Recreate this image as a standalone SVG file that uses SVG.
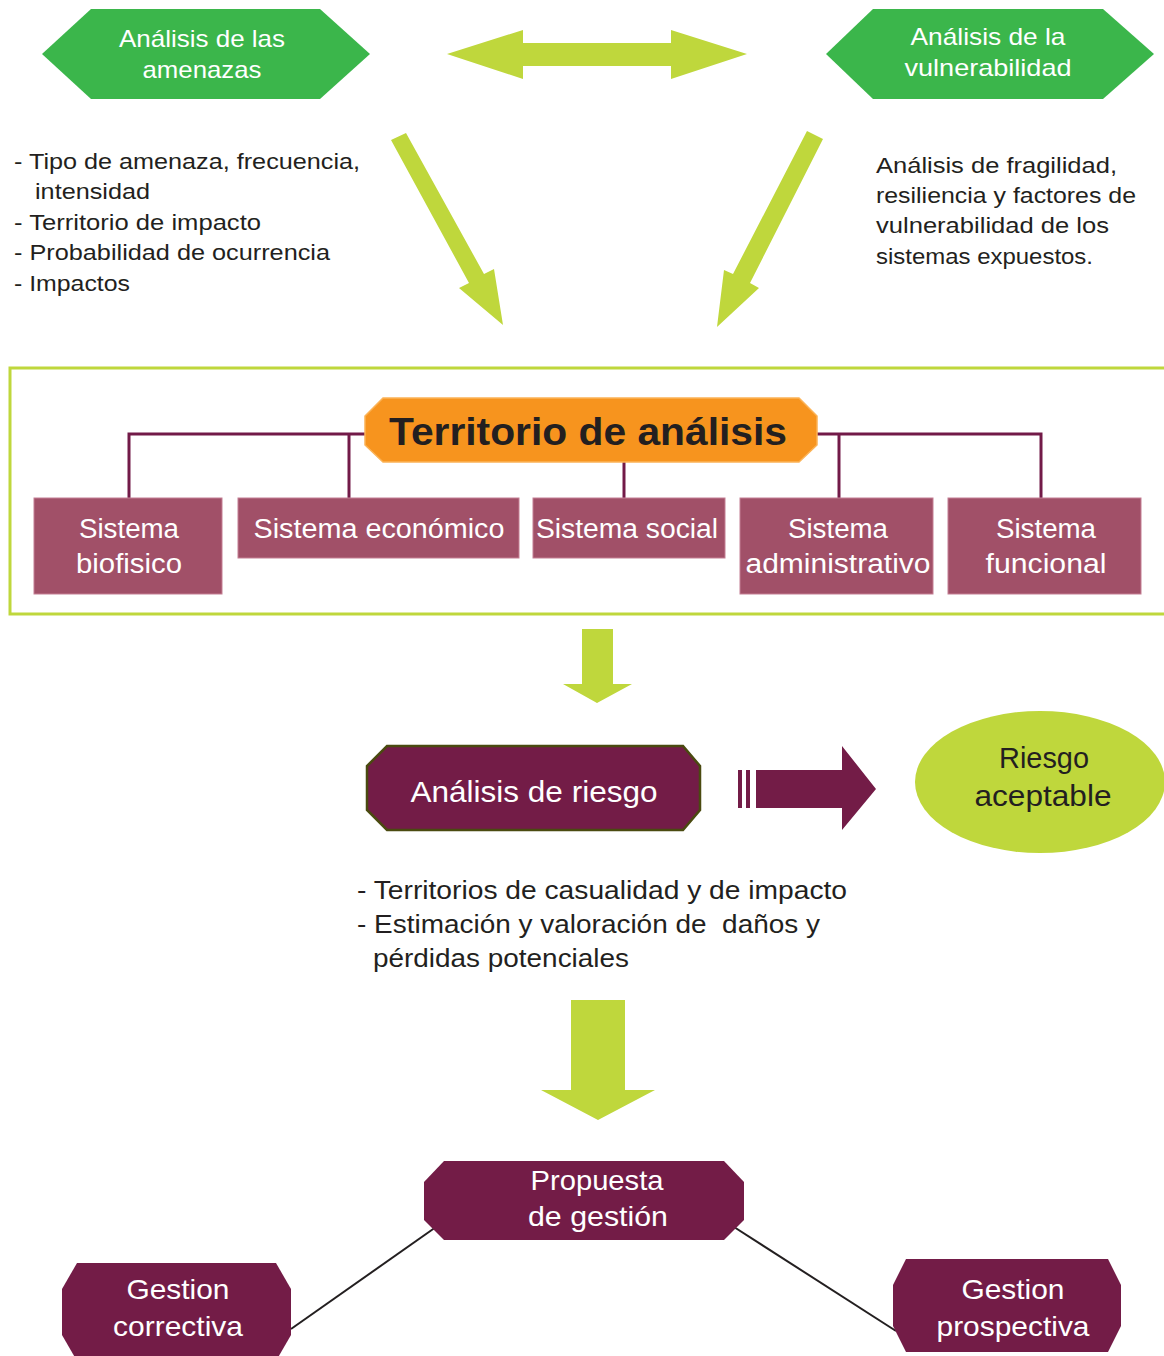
<svg xmlns="http://www.w3.org/2000/svg" width="1164" height="1356" viewBox="0 0 1164 1356">
  <style>
    text { font-family: "Liberation Sans", "Noto Sans", Arial, sans-serif; }
    .hex-green { fill: #3bb64b; }
    .lime { fill: #bfd73c; }
    .plum { fill: #731c47; }
    .sys { fill: #a15068; stroke: #c47f93; stroke-width: 1; }
    .wt { fill: #ffffff; text-anchor: middle; }
    .dk { fill: #231f20; }
    .tree { fill: none; stroke: #721a48; stroke-width: 3; }
    .thin { fill: none; stroke: #231f20; stroke-width: 2; }
  </style>

  <!-- connectors -->
  <g id="connectors">
    <!-- two-way arrow between the analyses -->
    <polygon class="lime" points="447,54 523,30 523,43 671,43 671,30 747,54 671,79 671,66 523,66 523,79"/>
    <!-- diagonal arrows into the territory -->
    <polygon class="lime" points="391,140 406,133 484,274 494,269 503,325 459,288 469,283"/>
    <polygon class="lime" points="807,131 823,139 750,283 759,288 717,327 724,270 733,274"/>
    <!-- territory tree -->
    <polyline class="tree" points="129,498 129,434 365,434"/>
    <line class="tree" x1="349" y1="434" x2="349" y2="498"/>
    <line class="tree" x1="624" y1="462" x2="624" y2="498"/>
    <polyline class="tree" points="817,434 1041,434 1041,498"/>
    <line class="tree" x1="839" y1="434" x2="839" y2="498"/>
    <!-- downward arrows -->
    <polygon class="lime" points="582,629 613,629 613,684 632,684 597,703 563,684 582,684"/>
    <polygon class="lime" points="571,1000 625,1000 625,1090 655,1090 598,1120 541,1090 571,1090"/>
    <!-- striped arrow to acceptable risk -->
    <rect class="plum" x="738" y="770" width="4" height="38"/>
    <rect class="plum" x="746" y="770" width="4" height="38"/>
    <polygon class="plum" points="756,770 842,770 842,746 876,789 842,830 842,808 756,808"/>
    <!-- management branches -->
    <line class="thin" x1="291" y1="1329" x2="436" y2="1227"/>
    <line class="thin" x1="734" y1="1227" x2="896" y2="1331"/>
  </g>

  <!-- threat analysis -->
  <g id="node-amenazas">
    <polygon class="hex-green" points="91,9 320,9 370,54 320,99 91,99 42,54"/>
    <text class="wt" x="202" y="47" font-size="24" textLength="166" lengthAdjust="spacingAndGlyphs">Análisis de las</text>
    <text class="wt" x="202" y="78" font-size="24" textLength="119" lengthAdjust="spacingAndGlyphs">amenazas</text>
  </g>

  <!-- vulnerability analysis -->
  <g id="node-vulnerabilidad">
    <polygon class="hex-green" points="873,9 1103,9 1154,54 1103,99 873,99 826,54"/>
    <text class="wt" x="988" y="45" font-size="24" textLength="155" lengthAdjust="spacingAndGlyphs">Análisis de la</text>
    <text class="wt" x="988" y="76" font-size="24" textLength="167" lengthAdjust="spacingAndGlyphs">vulnerabilidad</text>
  </g>

  <g id="notes-amenazas" class="dk" font-size="22">
    <text x="14" y="169" textLength="346" lengthAdjust="spacingAndGlyphs">- Tipo de amenaza, frecuencia,</text>
    <text x="35" y="199" textLength="115" lengthAdjust="spacingAndGlyphs">intensidad</text>
    <text x="14" y="230" textLength="247" lengthAdjust="spacingAndGlyphs">- Territorio de impacto</text>
    <text x="14" y="260" textLength="316" lengthAdjust="spacingAndGlyphs">- Probabilidad de ocurrencia</text>
    <text x="14" y="291" textLength="116" lengthAdjust="spacingAndGlyphs">- Impactos</text>
  </g>

  <g id="notes-vulnerabilidad" class="dk" font-size="22">
    <text x="876" y="173" textLength="241" lengthAdjust="spacingAndGlyphs">Análisis de fragilidad,</text>
    <text x="876" y="203" textLength="260" lengthAdjust="spacingAndGlyphs">resiliencia y factores de</text>
    <text x="876" y="233" textLength="233" lengthAdjust="spacingAndGlyphs">vulnerabilidad de los</text>
    <text x="876" y="264" textLength="217" lengthAdjust="spacingAndGlyphs">sistemas expuestos.</text>
  </g>

  <!-- territory frame -->
  <g id="frame-territorio">
    <rect x="10" y="368" width="1164" height="246" fill="none" stroke="#bfd73c" stroke-width="3"/>
  </g>

  <g id="node-territorio">
    <polygon points="383,398 799,398 817,416 817,445 799,462 383,462 365,445 365,416" fill="#f7941e" stroke="#fbb357" stroke-width="1.5"/>
    <text class="dk" x="588" y="445" font-size="38" font-weight="bold" text-anchor="middle" textLength="398" lengthAdjust="spacingAndGlyphs">Territorio de análisis</text>
  </g>

  <g id="node-biofisico">
    <rect class="sys" x="34" y="498" width="188" height="96"/>
    <text class="wt" x="129" y="538" font-size="27" textLength="100" lengthAdjust="spacingAndGlyphs">Sistema</text>
    <text class="wt" x="129" y="573" font-size="27" textLength="106" lengthAdjust="spacingAndGlyphs">biofisico</text>
  </g>
  <g id="node-economico">
    <rect class="sys" x="238" y="498" width="281" height="60"/>
    <text class="wt" x="379" y="538" font-size="27" textLength="251" lengthAdjust="spacingAndGlyphs">Sistema económico</text>
  </g>
  <g id="node-social">
    <rect class="sys" x="533" y="498" width="192" height="60"/>
    <text class="wt" x="627" y="538" font-size="27" textLength="182" lengthAdjust="spacingAndGlyphs">Sistema social</text>
  </g>
  <g id="node-administrativo">
    <rect class="sys" x="740" y="498" width="193" height="96"/>
    <text class="wt" x="838" y="538" font-size="27" textLength="100" lengthAdjust="spacingAndGlyphs">Sistema</text>
    <text class="wt" x="838" y="573" font-size="27" textLength="185" lengthAdjust="spacingAndGlyphs">administrativo</text>
  </g>
  <g id="node-funcional">
    <rect class="sys" x="948" y="498" width="193" height="96"/>
    <text class="wt" x="1046" y="538" font-size="27" textLength="100" lengthAdjust="spacingAndGlyphs">Sistema</text>
    <text class="wt" x="1046" y="573" font-size="27" textLength="121" lengthAdjust="spacingAndGlyphs">funcional</text>
  </g>

  <!-- risk analysis -->
  <g id="node-riesgo">
    <polygon class="plum" points="387,746 683,746 700,766 700,810 683,830 387,830 367,810 367,766" stroke="#4a4a10" stroke-width="2.5"/>
    <text class="wt" x="534" y="802" font-size="29" textLength="247" lengthAdjust="spacingAndGlyphs">Análisis de riesgo</text>
  </g>

  <g id="node-aceptable">
    <ellipse class="lime" cx="1040" cy="782" rx="125" ry="71"/>
    <text class="dk" x="1044" y="768" font-size="29" text-anchor="middle" textLength="90" lengthAdjust="spacingAndGlyphs">Riesgo</text>
    <text class="dk" x="1043" y="806" font-size="29" text-anchor="middle" textLength="137" lengthAdjust="spacingAndGlyphs">aceptable</text>
  </g>

  <g id="notes-riesgo" class="dk" font-size="25">
    <text x="357" y="899" textLength="490" lengthAdjust="spacingAndGlyphs">- Territorios de casualidad y de impacto</text>
    <text x="357" y="933" xml:space="preserve" textLength="463" lengthAdjust="spacingAndGlyphs">- Estimación y valoración de  daños y</text>
    <text x="373" y="967" textLength="256" lengthAdjust="spacingAndGlyphs">pérdidas potenciales</text>
  </g>

  <!-- management -->
  <g id="node-propuesta">
    <polygon class="plum" points="444,1161 724,1161 744,1182 744,1220 724,1240 444,1240 424,1220 424,1182"/>
    <text class="wt" x="597" y="1190" font-size="28" textLength="133" lengthAdjust="spacingAndGlyphs">Propuesta</text>
    <text class="wt" x="598" y="1226" font-size="28" textLength="140" lengthAdjust="spacingAndGlyphs">de gestión</text>
  </g>

  <g id="node-correctiva">
    <polygon class="plum" points="77,1263 276,1263 291,1289 291,1335 276,1361 77,1361 62,1335 62,1289"/>
    <text class="wt" x="178" y="1299" font-size="28" textLength="103" lengthAdjust="spacingAndGlyphs">Gestion</text>
    <text class="wt" x="178" y="1336" font-size="28" textLength="130" lengthAdjust="spacingAndGlyphs">correctiva</text>
  </g>

  <g id="node-prospectiva">
    <polygon class="plum" points="906,1259 1108,1259 1121,1285 1121,1326 1108,1352 906,1352 893,1326 893,1285"/>
    <text class="wt" x="1013" y="1299" font-size="28" textLength="103" lengthAdjust="spacingAndGlyphs">Gestion</text>
    <text class="wt" x="1013" y="1336" font-size="28" textLength="153" lengthAdjust="spacingAndGlyphs">prospectiva</text>
  </g>
</svg>
